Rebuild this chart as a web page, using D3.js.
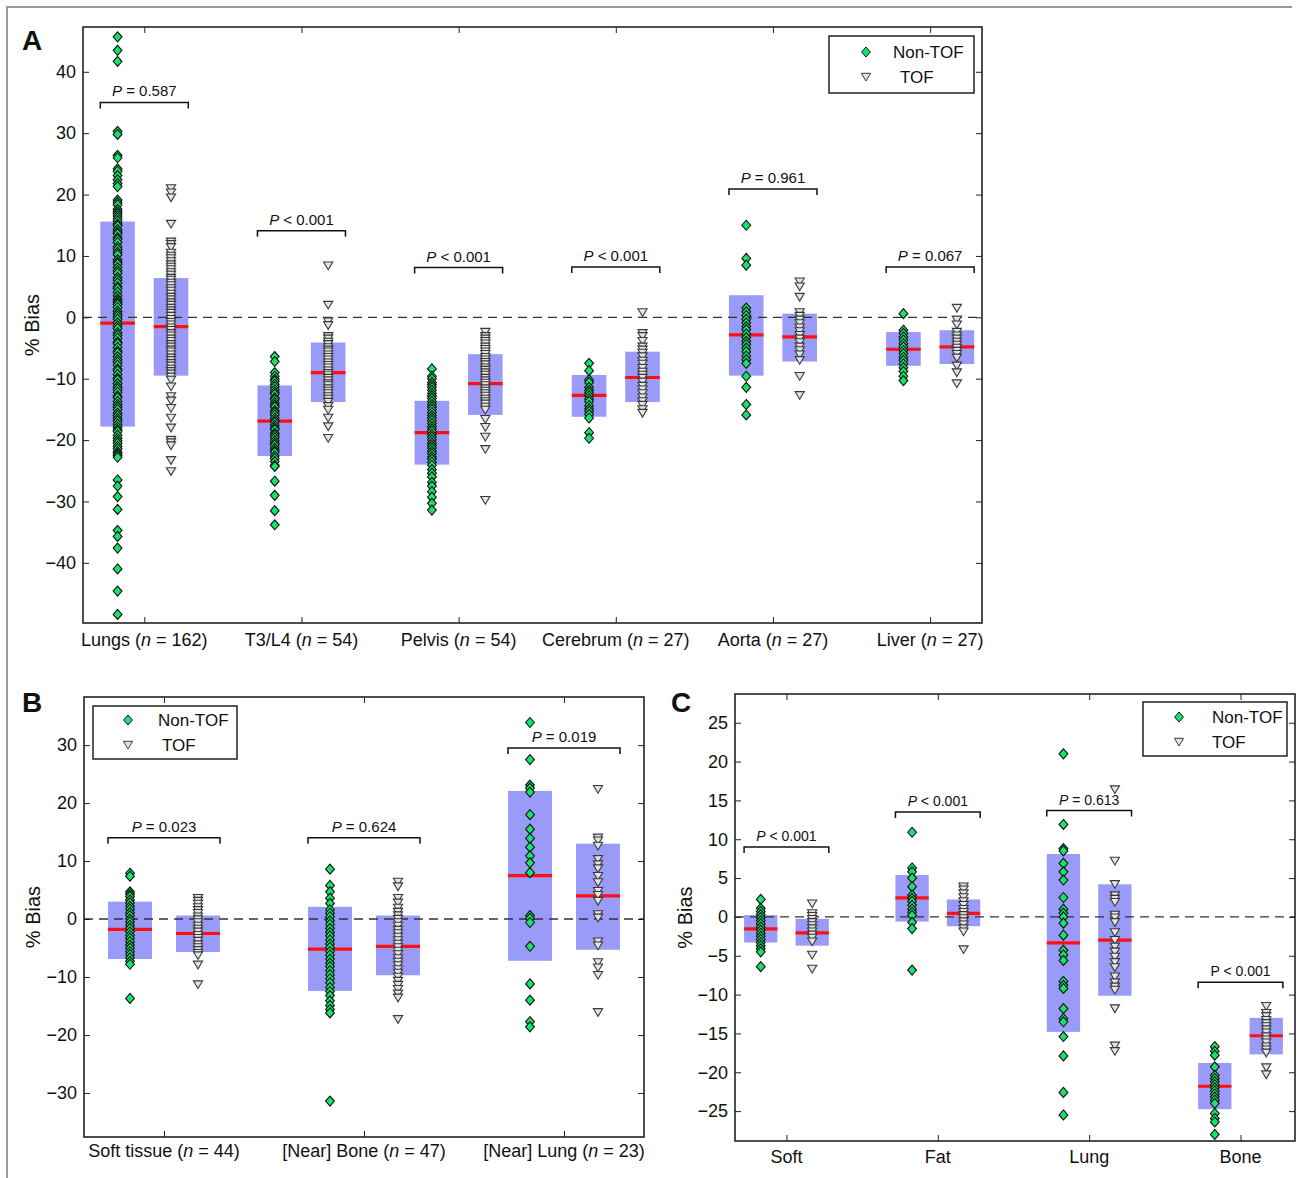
<!DOCTYPE html>
<html>
<head>
<meta charset="utf-8">
<script src="https://cdn.jsdelivr.net/npm/d3@7"></script>
<style>
  body { margin: 0; background: #fff; }
  svg text { font-family: "Liberation Sans", Arial, sans-serif; fill: #111; }
</style>
</head>
<body>
<svg id="chart" width="1299" height="1178"></svg>
<script>
// ---------- panel A : whole-body regions ----------
const aCategories = ["Lungs", "T3/L4", "Pelvis", "Cerebrum", "Aorta", "Liver"];
const aCounts = [162, 54, 54, 27, 27, 27];
const aYTicks = [-40, -30, -20, -10, 0, 10, 20, 30, 40];

const aNonTof = [
  [45.7, 43.5, 41.7, 30.3, 29.8, 26.4, 26.0, 24.2, 23.8, 23.1, 22.4, 21.8, 21.3,
   19.1, 18.7, 18.3, 17.6, 17.2, 16.9, 16.5, 16.1, 15.7, 15.2, 14.9, 14.3, 13.9, 13.6,
   13.0, 12.7, 12.2, 11.5, 11.1, 10.6, 10.2, 9.4, 9.0, 8.7, 8.1, 7.6, 7.2, 6.5, 6.1,
   5.6, 5.0, 4.7, 4.1, 3.5, 3.0, 2.7, 2.4, 2.1, 1.6, 1.0, 0.6, 0.2, -0.3, -0.9, -1.4,
   -1.8, -2.5, -2.9, -3.4, -4.0, -4.3, -4.9, -5.5, -5.8, -6.4, -6.9, -7.3, -7.8, -8.4,
   -8.7, -9.3, -9.9, -10.2, -10.8, -11.3, -11.7, -12.2, -12.8, -13.1, -13.7, -14.2,
   -14.6, -15.0, -15.6, -16.0, -16.5, -16.9, -17.4, -17.9, -18.3, -18.6, -19.2, -19.7,
   -20.1, -20.5, -21.0, -21.4, -21.9, -22.2, -22.5, -22.8,
   -26.5, -27.5, -29.2, -31.3, -34.7, -35.7, -37.6, -41.0, -44.6, -48.4],
  [-6.4, -7.2, -9.0, -9.6, -10.1, -10.4, -10.9, -11.3, -11.8, -12.2, -12.5, -13.1, -13.4,
   -13.9, -14.3, -14.6, -15.2, -15.5, -15.9, -16.4, -16.8, -17.1, -17.6, -18.0, -18.3,
   -18.9, -19.2, -19.6, -20.1, -20.5, -20.8, -21.3, -21.7, -22.0, -22.6, -23.0, -23.5,
   -24.1, -24.3, -26.7, -29.0, -31.5, -33.8],
  [-8.4, -9.6, -10.0, -10.6, -11.0, -11.4, -11.9, -12.4, -12.8, -13.2, -13.7, -14.2,
   -14.6, -15.0, -15.5, -16.0, -16.4, -16.8, -17.3, -17.8, -18.2, -18.6, -19.1, -19.5,
   -20.0, -20.5, -20.9, -21.3, -21.8, -22.2, -22.7, -23.1, -23.6, -24.1, -24.8, -25.4,
   -26.0, -26.9, -27.5, -28.4, -29.3, -30.3, -31.4],
  [-7.5, -8.7, -10.2, -10.6, -11.4, -11.9, -12.3, -12.8, -13.3, -13.7, -14.4, -14.9,
   -15.3, -15.8, -16.4, -18.8, -19.7],
  [15.0, 9.6, 8.5, 1.5, 0.9, 0.3, -0.3, -0.9, -1.5, -2.0, -2.7, -3.3, -3.9, -4.4, -5.0,
   -5.6, -6.3, -6.9, -7.5, -9.6, -11.4, -14.2, -15.9],
  [0.6, -2.1, -2.6, -3.2, -3.7, -4.3, -4.8, -5.4, -5.9, -6.5, -7.0, -7.6, -8.2, -8.8,
   -9.6, -10.3]
];
const aTof = [
  [21.0, 20.3, 19.5, 15.2, 12.3, 11.9, 11.4, 10.5, 10.0, 9.6, 9.1, 8.6, 8.2, 7.8, 7.3,
   6.9, 6.4, 6.1, 5.6, 5.2, 4.7, 4.3, 3.8, 3.3, 2.9, 2.4, 2.0, 1.5, 1.1, 0.7, 0.2, -0.3,
   -0.8, -1.2, -1.7, -2.1, -2.6, -3.0, -3.5, -3.9, -4.4, -4.8, -5.3, -5.6, -6.1, -6.6,
   -7.0, -7.5, -7.9, -8.4, -8.8, -9.2, -9.7, -10.2, -11.3, -12.9, -13.6, -14.8, -16.4,
   -18.0, -20.0, -20.4, -20.9, -23.3, -25.1],
  [8.4, 2.0, -0.7, -1.3, -3.1, -3.5, -4.0, -4.4, -4.9, -5.3, -5.6, -6.1, -6.5, -6.9,
   -7.4, -7.8, -8.2, -8.7, -9.1, -9.4, -9.9, -10.3, -10.8, -11.1, -11.6, -12.0, -12.4,
   -12.9, -13.3, -13.8, -14.5, -15.1, -16.4, -17.8, -19.7],
  [-2.4, -3.1, -3.5, -3.9, -4.3, -4.8, -5.2, -5.6, -6.0, -6.5, -6.9, -7.3, -7.7, -8.2,
   -8.6, -9.0, -9.4, -9.9, -10.3, -10.7, -11.1, -11.6, -12.0, -12.4, -12.8, -13.3,
   -13.7, -14.1, -14.6, -15.1, -16.6, -17.9, -19.5, -21.5, -29.8],
  [0.8, -2.6, -3.1, -3.9, -4.8, -5.3, -5.8, -6.4, -7.1, -7.6, -8.3, -8.9, -9.4, -9.9,
   -10.5, -11.2, -11.8, -12.4, -13.1, -13.7, -14.3, -15.0, -15.6],
  [5.8, 5.0, 3.3, 0.8, 0.2, -0.4, -1.0, -1.7, -2.3, -2.9, -3.5, -4.1, -4.8, -5.4, -6.1,
   -7.0, -9.6, -12.7],
  [1.5, -0.4, -1.2, -2.4, -3.0, -3.5, -4.0, -4.5, -5.0, -5.5, -6.0, -6.6, -7.9, -9.0, -10.8]
];
const aNonTofMean = [-0.95, -16.9, -18.8, -12.7, -2.85, -5.2];
const aNonTofLow = [-17.8, -22.6, -24.0, -16.2, -9.5, -7.9];
const aNonTofHigh = [15.6, -11.1, -13.6, -9.4, 3.6, -2.4];
const aTofMean = [-1.5, -9.0, -10.8, -9.8, -3.2, -4.8];
const aTofLow = [-9.5, -13.8, -15.9, -13.8, -7.2, -7.6];
const aTofHigh = [6.4, -4.1, -6.0, -5.6, 0.6, -2.1];
const aPText = ["= 0.587", "< 0.001", "< 0.001", "< 0.001", "= 0.961", "= 0.067"];
const aPLevel = [35, 14.1, 8.1, 8.2, 20.9, 8.2];

// ---------- panel B : lesion surroundings ----------
const bCategories = ["Soft tissue", "[Near] Bone", "[Near] Lung"];
const bCounts = [44, 47, 23];
const bYTicks = [-30, -20, -10, 0, 10, 20, 30];
const bNonTof = [
  [7.9, 7.4, 4.7, 4.3, 3.9, 3.3, 2.8, 2.2, 1.7, 1.1, 0.6, 0.0, -0.5, -1.1, -1.6, -2.2,
   -2.8, -3.3, -3.9, -4.5, -5.0, -5.6, -6.1, -6.7, -7.3, -7.8, -13.7],
  [8.6, 5.8, 4.7, 3.6, 2.7, 1.6, 1.0, 0.4, -0.3, -0.9, -1.6, -2.3, -2.9, -3.6, -4.3,
   -4.9, -5.6, -6.2, -6.9, -7.6, -8.2, -8.9, -9.6, -10.3, -11.0, -11.8, -12.5, -13.2,
   -14.1, -14.9, -15.6, -16.2, -31.4],
  [33.9, 27.5, 23.1, 22.6, 21.9, 18.0, 15.5, 13.9, 12.4, 10.9, 9.7, 8.0, 0.6, 0.1,
   -0.6, -4.7, -11.2, -14.0, -17.7, -18.6]
];
const bTof = [
  [3.6, 3.1, 2.6, 2.0, 1.5, 1.0, 0.4, -0.1, -0.6, -1.2, -1.7, -2.2, -2.8, -3.3, -3.8,
   -4.4, -4.9, -5.4, -5.9, -6.3, -7.9, -11.3],
  [6.4, 5.6, 3.6, 2.8, 1.9, 1.2, 0.6, 0.0, -0.6, -1.2, -1.9, -2.5, -3.1, -3.7, -4.3,
   -4.9, -5.5, -6.1, -6.8, -7.4, -8.0, -8.7, -9.3, -10.0, -10.7, -11.4, -12.1, -12.9,
   -13.6, -17.3],
  [22.4, 14.0, 13.5, 12.6, 10.3, 9.4, 8.7, 7.4, 6.3, 4.8, 4.1, 3.1, 0.8, 0.2, -3.9,
   -4.6, -7.5, -8.4, -9.7, -16.1]
];
const bNonTofMean = [-1.8, -5.2, 7.5];
const bNonTofLow = [-6.9, -12.4, -7.2];
const bNonTofHigh = [3.0, 2.1, 22.1];
const bTofMean = [-2.5, -4.7, 4.0];
const bTofLow = [-5.7, -9.7, -5.3];
const bTofHigh = [0.6, 0.6, 13.0];
const bPText = ["= 0.023", "= 0.624", "= 0.019"];
const bPLevel = [14, 14, 29.5];

// ---------- panel C : tissue classes ----------
const cCategories = ["Soft", "Fat", "Lung", "Bone"];
const cYTicks = [-25, -20, -15, -10, -5, 0, 5, 10, 15, 20, 25];
const cNonTof = [
  [2.25, 1.1, 0.7, 0.3, -0.1, -0.5, -0.9, -1.3, -1.7, -2.1, -2.5, -2.9, -3.3, -3.7,
   -4.1, -4.5, -6.4],
  [10.9, 6.3, 5.8, 5.0, 3.9, 2.8, 2.4, 2.0, 1.5, 1.0, 0.6, 0.2, -0.7, -1.5, -6.85],
  [21.0, 11.9, 8.8, 8.5, 6.9, 5.8, 4.75, 2.5, 1.0, 0.5, 0.0, -0.8, -2.35, -4.3, -4.9,
   -5.6, -8.3, -8.8, -9.2, -11.8, -13.1, -13.5, -15.4, -17.9, -22.6, -25.5],
  [-16.7, -17.3, -17.8, -19.3, -20.4, -20.8, -21.2, -21.6, -22.0, -22.4, -22.8, -23.2,
   -23.6, -24.0, -25.3, -25.95, -26.4, -28.0]
];
const cTof = [
  [1.7, 0.45, 0.1, -0.3, -0.7, -1.1, -1.5, -1.9, -2.3, -2.7, -3.2, -4.9, -6.7],
  [3.9, 3.5, 3.0, 2.5, 2.0, 1.5, 1.0, 0.6, 0.2, -0.2, -0.6, -1.0, -1.5, -1.9, -4.2],
  [16.4, 7.2, 4.2, 2.75, 2.3, 1.9, 0.25, -0.1, -0.7, -2.0, -3.0, -3.85, -4.5, -5.15,
   -5.85, -6.5, -7.7, -8.45, -9.0, -9.4, -11.8, -16.6, -17.3],
  [-11.5, -12.4, -12.8, -13.3, -13.7, -14.1, -14.5, -14.9, -15.4, -15.8, -16.2, -16.7,
   -17.1, -17.5, -19.4, -20.3]
];
const cNonTofMean = [-1.55, 2.45, -3.35, -21.8];
const cNonTofLow = [-3.3, -0.6, -14.8, -24.75];
const cNonTofHigh = [0.23, 5.4, 8.1, -18.8];
const cTofMean = [-2.05, 0.45, -3.0, -15.3];
const cTofLow = [-3.7, -1.2, -10.15, -17.7];
const cTofHigh = [-0.25, 2.25, 4.2, -13.0];
const cPText = ["< 0.001", "< 0.001", "= 0.613", "< 0.001"];
const cPLevel = [9.0, 13.5, 13.7, -8.4];
const cPItalic = [true, true, true, false];

const seriesNames = ["Non-TOF", "TOF"];

// ---------- styling ----------
const GREEN = "#17e36c";
const BOX = "#9a9bf8";
const RED = "#ff1010";
const AXIS = "#222";
const OFF = 0.17; // half distance between the two boxes
const HALF = 0.11; // half box width
const BRACKET = 0.28;

const diamond = "M0,-5L4.4,0L0,5L-4.4,0Z";
const triangle = "M-4.6,-3.7L4.6,-3.7L0,4Z";

const svg = d3.select("#chart");

// thin grey outer frame of the figure
svg.append("path")
  .attr("d", "M7,1178V7H1292")
  .attr("fill", "none")
  .attr("stroke", "#9a9a9a")
  .attr("stroke-width", 2);

const minus = (d) => (d < 0 ? "\u2212" + Math.abs(d) : String(d));

function drawPanel(p) {
  const x = d3.scaleLinear().domain(p.xDomain).range([p.left, p.right]);
  const y = d3.scaleLinear().domain(p.yDomain).range([p.bottom, p.top]);
  const g = svg.append("g");
  const groups = p.categories.map((c, i) => ({
    pos: i + 1,
    name: c,
    n: p.counts ? p.counts[i] : null,
    sets: [
      { dx: -OFF, mean: p.nonTofMean[i], lo: p.nonTofLow[i], hi: p.nonTofHigh[i], pts: p.nonTof[i], kind: 0 },
      { dx: OFF, mean: p.tofMean[i], lo: p.tofLow[i], hi: p.tofHigh[i], pts: p.tof[i], kind: 1 }
    ]
  }));
  const sets = groups.flatMap((gr) => gr.sets.map((s) => ({ ...s, cx: gr.pos + s.dx })));

  // mean +/- SD boxes
  g.selectAll("rect.sd")
    .data(sets)
    .enter()
    .append("rect")
    .attr("class", "sd")
    .attr("x", (d) => x(d.cx - HALF))
    .attr("width", (d) => x(d.cx + HALF) - x(d.cx - HALF))
    .attr("y", (d) => y(d.hi))
    .attr("height", (d) => y(d.lo) - y(d.hi))
    .attr("fill", BOX);

  // mean lines
  g.selectAll("line.mean")
    .data(sets)
    .enter()
    .append("line")
    .attr("x1", (d) => x(d.cx - HALF))
    .attr("x2", (d) => x(d.cx + HALF))
    .attr("y1", (d) => y(d.mean))
    .attr("y2", (d) => y(d.mean))
    .attr("stroke", RED)
    .attr("stroke-width", 3.2);

  // zero line
  g.append("line")
    .attr("x1", p.left)
    .attr("x2", p.right)
    .attr("y1", y(0))
    .attr("y2", y(0))
    .attr("stroke", "#333")
    .attr("stroke-width", 1.4)
    .attr("stroke-dasharray", "9,6");

  // individual values
  sets.forEach((s) => {
    g.append("g")
      .selectAll("path")
      .data(s.pts)
      .enter()
      .append("path")
      .attr("d", s.kind === 0 ? diamond : triangle)
      .attr("transform", (v) => "translate(" + x(s.cx) + "," + y(v) + ")")
      .attr("fill", s.kind === 0 ? GREEN : "#e4e4e4")
      .attr("stroke", s.kind === 0 ? "#111" : "#3a3a3a")
      .attr("stroke-width", 1.1);
  });

  // significance brackets
  groups.forEach((gr, i) => {
    const yb = y(p.pLevel[i]);
    const x1 = x(gr.pos - BRACKET);
    const x2 = x(gr.pos + BRACKET);
    g.append("path")
      .attr("d", "M" + x1 + "," + (yb + 6) + "V" + yb + "H" + x2 + "V" + (yb + 6))
      .attr("fill", "none")
      .attr("stroke", "#111")
      .attr("stroke-width", 1.5);
    const t = g.append("text")
      .attr("x", (x1 + x2) / 2)
      .attr("y", yb - 6)
      .attr("text-anchor", "middle")
      .attr("font-size", p.pFont);
    t.append("tspan")
      .attr("font-style", p.pItalic && !p.pItalic[i] ? "normal" : "italic")
      .text("P");
    t.append("tspan").text(" " + p.pText[i]);
  });

  // axes: ticks on all four sides, pointing inwards
  g.append("g")
    .attr("transform", "translate(" + p.left + ",0)")
    .call(d3.axisLeft(y).tickValues(p.yTicks).tickSize(-6).tickPadding(7).tickFormat(minus))
    .call((a) => a.select(".domain").remove())
    .call((a) => a.selectAll("text").attr("font-size", 18).attr("font-family", null))
    .call((a) => a.selectAll("line").attr("stroke", AXIS));
  g.append("g")
    .attr("transform", "translate(" + p.right + ",0)")
    .call(d3.axisRight(y).tickValues(p.yTicks).tickSize(-6).tickFormat(""))
    .call((a) => a.select(".domain").remove())
    .call((a) => a.selectAll("line").attr("stroke", AXIS));
  const catTicks = groups.map((gr) => gr.pos);
  g.append("g")
    .attr("transform", "translate(0," + p.bottom + ")")
    .call(d3.axisBottom(x).tickValues(catTicks).tickSize(-6).tickFormat(""))
    .call((a) => a.select(".domain").remove())
    .call((a) => a.selectAll("line").attr("stroke", AXIS));
  g.append("g")
    .attr("transform", "translate(0," + p.top + ")")
    .call(d3.axisTop(x).tickValues(catTicks).tickSize(-6).tickFormat(""))
    .call((a) => a.select(".domain").remove())
    .call((a) => a.selectAll("line").attr("stroke", AXIS));

  g.append("rect")
    .attr("x", p.left)
    .attr("y", p.top)
    .attr("width", p.right - p.left)
    .attr("height", p.bottom - p.top)
    .attr("fill", "none")
    .attr("stroke", AXIS)
    .attr("stroke-width", 1.6);

  // category labels
  groups.forEach((gr) => {
    const t = g.append("text")
      .attr("x", x(gr.pos))
      .attr("y", p.bottom + p.labelGap)
      .attr("text-anchor", "middle")
      .attr("font-size", 18);
    if (gr.n === null) {
      t.text(gr.name);
    } else {
      t.append("tspan").text(gr.name + " (");
      t.append("tspan").attr("font-style", "italic").text("n");
      t.append("tspan").text(" = " + gr.n + ")");
    }
  });

  // y title and panel letter
  g.append("text")
    .attr("transform", "translate(" + p.titleX + "," + (p.top + p.bottom) / 2 + ") rotate(-90)")
    .attr("text-anchor", "middle")
    .attr("font-size", 20)
    .text("% Bias");
  g.append("text")
    .attr("x", p.letterX)
    .attr("y", p.letterY)
    .attr("font-size", 28)
    .attr("font-weight", "bold")
    .text(p.letter);

  // legend
  const L = p.legend;
  const lg = g.append("g").attr("transform", "translate(" + L.x + "," + L.y + ")");
  lg.append("rect")
    .attr("width", L.w)
    .attr("height", L.h)
    .attr("fill", "#fff")
    .attr("stroke", AXIS)
    .attr("stroke-width", 1.5);
  seriesNames.forEach((name, i) => {
    const ry = i === 0 ? L.r1 : L.r2;
    lg.append("path")
      .attr("d", i === 0 ? diamond : triangle)
      .attr("transform", "translate(" + L.mx + "," + ry + ")")
      .attr("fill", i === 0 ? GREEN : "#e4e4e4")
      .attr("stroke", i === 0 ? "#111" : "#3a3a3a");
    lg.append("text")
      .attr("x", i === 0 ? L.t1 : L.t2)
      .attr("y", ry + 6)
      .attr("font-size", 17)
      .text(name);
  });
}

drawPanel({
  letter: "A", letterX: 22, letterY: 50,
  left: 83, right: 982, top: 27, bottom: 623,
  xDomain: [0.61, 6.33], yDomain: [-49.8, 47.3], yTicks: aYTicks,
  categories: aCategories, counts: aCounts,
  nonTof: aNonTof, tof: aTof,
  nonTofMean: aNonTofMean, nonTofLow: aNonTofLow, nonTofHigh: aNonTofHigh,
  tofMean: aTofMean, tofLow: aTofLow, tofHigh: aTofHigh,
  pText: aPText, pLevel: aPLevel, pFont: 15,
  labelGap: 23, titleX: 39,
  legend: { x: 829, y: 36, w: 145, h: 57, mx: 37, t1: 64, t2: 71, r1: 16, r2: 41 }
});

drawPanel({
  letter: "B", letterX: 22, letterY: 712,
  left: 84, right: 644, top: 697, bottom: 1137,
  xDomain: [0.6, 3.4], yDomain: [-37.6, 38.3], yTicks: bYTicks,
  categories: bCategories, counts: bCounts,
  nonTof: bNonTof, tof: bTof,
  nonTofMean: bNonTofMean, nonTofLow: bNonTofLow, nonTofHigh: bNonTofHigh,
  tofMean: bTofMean, tofLow: bTofLow, tofHigh: bTofHigh,
  pText: bPText, pLevel: bPLevel, pFont: 15,
  labelGap: 20, titleX: 40,
  legend: { x: 93, y: 706, w: 144, h: 53, mx: 35, t1: 65, t2: 69, r1: 14, r2: 39 }
});

drawPanel({
  letter: "C", letterX: 671, letterY: 712,
  left: 735, right: 1295, top: 694, bottom: 1141,
  xDomain: [0.66, 4.36], yDomain: [-28.85, 28.7], yTicks: cYTicks,
  categories: cCategories, counts: null,
  nonTof: cNonTof, tof: cTof,
  nonTofMean: cNonTofMean, nonTofLow: cNonTofLow, nonTofHigh: cNonTofHigh,
  tofMean: cTofMean, tofLow: cTofLow, tofHigh: cTofHigh,
  pText: cPText, pLevel: cPLevel, pItalic: cPItalic, pFont: 14,
  labelGap: 22, titleX: 692,
  legend: { x: 1143, y: 702, w: 144, h: 54, mx: 36, t1: 69, t2: 69, r1: 15, r2: 40 }
});
</script>
</body>
</html>
